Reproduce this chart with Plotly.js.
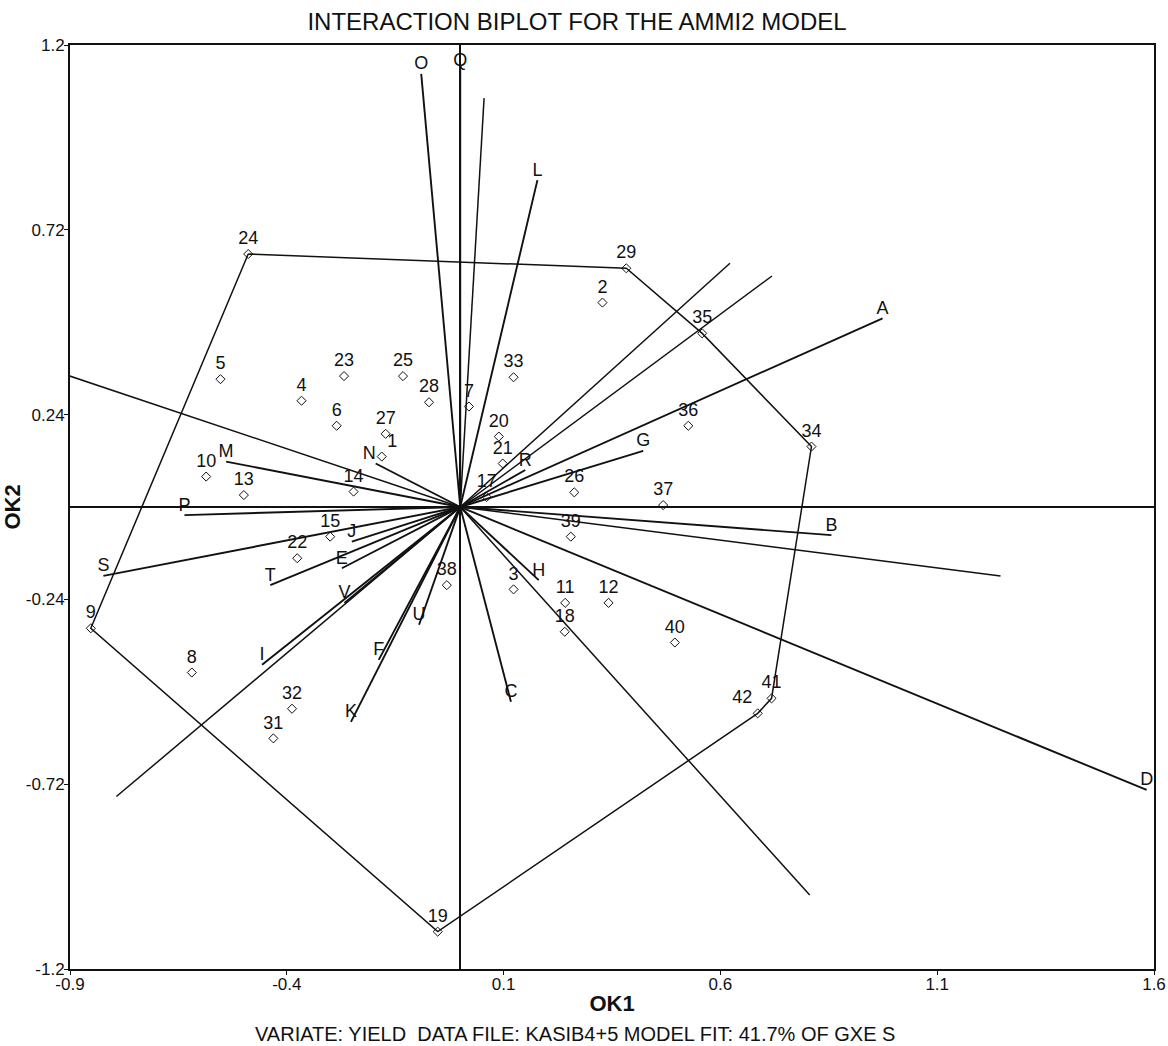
<!DOCTYPE html>
<html>
<head>
<meta charset="utf-8">
<script src="https://cdn.plot.ly/plotly-3.0.1.min.js"></script>
<style>
html,body{margin:0;padding:0;background:#fff;}
#chart{width:1168px;height:1046px;}
</style>
</head>
<body>
<div id="chart"></div>
<script>
// Genotypes (numbered points)
const genoLabels = ['1','2','3','4','5','6','7','8','9','10','11','12','13','14','15','17','18','19','20','21','22','23','24','25','26','27','28','29','31','32','33','34','35','36','37','38','39','40','41','42'];
const genoX = [-0.181,0.328,0.123,-0.366,-0.553,-0.285,0.020,-0.619,-0.852,-0.586,0.242,0.342,-0.499,-0.246,-0.300,0.061,0.241,-0.052,0.089,0.098,-0.376,-0.268,-0.489,-0.132,0.263,-0.172,-0.072,0.383,-0.431,-0.388,0.123,0.810,0.558,0.526,0.468,-0.031,0.255,0.495,0.718,0.686];
const genoY = [0.131,0.531,-0.214,0.276,0.332,0.211,0.261,-0.430,-0.315,0.079,-0.249,-0.249,0.031,0.040,-0.077,0.026,-0.324,-1.103,0.183,0.113,-0.133,0.340,0.657,0.340,0.038,0.190,0.272,0.620,-0.601,-0.524,0.337,0.157,0.451,0.211,0.005,-0.203,-0.077,-0.352,-0.497,-0.536];

// Environments (vectors from the origin)
const envLabels = ['A','B','C','D','E','F','G','H','I','J','K','L','M','N','O','P','Q','R','S','T','U','V'];
const envX = [0.974,0.856,0.117,1.583,-0.273,-0.188,0.422,0.181,-0.457,-0.250,-0.252,0.178,-0.540,-0.195,-0.090,-0.636,0.000,0.150,-0.823,-0.438,-0.095,-0.267];
const envY = [0.490,-0.073,-0.506,-0.735,-0.159,-0.397,0.146,-0.190,-0.410,-0.090,-0.558,0.849,0.118,0.113,1.125,-0.021,1.135,0.096,-0.179,-0.203,-0.306,-0.249];

// Convex hull vertices (genotype labels, in order)
const hullOrder = ['24','29','35','34','41','42','19','9','24'];

// Rays perpendicular to the hull sides (end points)
const rayX = [-0.969,0.055,0.622,0.719,1.246,0.806,-0.793];
const rayY = [0.366,1.062,0.633,0.600,-0.179,-1.008,-0.752];

// Axis ticks
const xTicks = [-0.9,-0.4,0.1,0.6,1.1,1.6];
const xTickText = ['-0.9','-0.4','0.1','0.6','1.1','1.6'];
const yTicks = [-1.2,-0.72,-0.24,0.24,0.72,1.2];
const yTickText = ['-1.2','-0.72','-0.24','0.24','0.72','1.2'];

const FONT = 'Liberation Sans, Arial, sans-serif';
const INK = '#111';

function spokes(xs, ys){
  const x=[], y=[];
  for(let i=0;i<xs.length;i++){ x.push(0, xs[i], null); y.push(0, ys[i], null); }
  return {x, y};
}
const envS = spokes(envX, envY);
const rayS = spokes(rayX, rayY);
const hullX = hullOrder.map(l => genoX[genoLabels.indexOf(l)]);
const hullY = hullOrder.map(l => genoY[genoLabels.indexOf(l)]);
const genoPos = genoLabels.map(l => l === '1' ? 'top right' : (l === '42' ? 'top left' : 'top center'));
const envPos = envLabels.map(l => l === 'N' ? 'top left' : 'top center');

const traces = [
  {type:'scatter', mode:'lines', x:rayS.x, y:rayS.y, line:{color:INK, width:1.5}, hoverinfo:'skip', showlegend:false},
  {type:'scatter', mode:'lines', x:hullX, y:hullY, line:{color:INK, width:1.5}, hoverinfo:'skip', showlegend:false},
  {type:'scatter', mode:'lines', x:envS.x, y:envS.y, line:{color:INK, width:1.9}, hoverinfo:'skip', showlegend:false},
  {type:'scatter', mode:'text', x:envX, y:envY, text:envLabels, textposition:envPos,
   textfont:{family:FONT, size:18, color:INK}, cliponaxis:false, showlegend:false},
  {type:'scatter', mode:'markers+text', x:genoX, y:genoY, text:genoLabels, textposition:genoPos,
   marker:{symbol:'diamond-open', size:7, color:INK, line:{width:1, color:INK}},
   textfont:{family:FONT, size:18, color:INK}, cliponaxis:false, showlegend:false}
];

const layout = {
  width:1168, height:1046,
  margin:{l:70, r:14, t:45, b:77},
  paper_bgcolor:'#fff', plot_bgcolor:'#fff',
  font:{family:FONT, color:INK, size:17},
  showlegend:false,
  title:{text:'INTERACTION BIPLOT FOR THE AMMI2 MODEL', font:{family:FONT, size:24, color:INK},
         x:0.494, xref:'container', xanchor:'center', y:0.979, yref:'container', yanchor:'middle'},
  xaxis:{range:[-0.9,1.6], tickmode:'array', tickvals:xTicks, ticktext:xTickText,
         showgrid:false, zeroline:true, zerolinecolor:INK, zerolinewidth:1.8,
         showline:true, mirror:true, linecolor:INK, linewidth:2,
         ticks:'outside', ticklen:4, tickcolor:INK, tickfont:{family:FONT, size:17, color:INK},
         ticklabeloverflow:'allow', ticklabelstandoff:-5,
         title:{text:'<b>OK1</b>', font:{family:FONT, size:22, color:INK}, standoff:2}},
  yaxis:{range:[-1.2,1.2], tickmode:'array', tickvals:yTicks, ticktext:yTickText,
         showgrid:false, zeroline:true, zerolinecolor:INK, zerolinewidth:1.8,
         showline:true, mirror:true, linecolor:INK, linewidth:2,
         ticks:'outside', ticklen:4, tickcolor:INK, tickfont:{family:FONT, size:17, color:INK},
         ticklabelstandoff:-4,
         title:{text:'<b>OK2</b>', font:{family:FONT, size:22, color:INK}, standoff:0}},
  annotations:[
    {text:'VARIATE: YIELD  DATA FILE: KASIB4+5 MODEL FIT: 41.7% OF GXE S', xref:'paper', yref:'paper',
     x:0.4655, y:-0.070, xanchor:'center', yanchor:'middle', showarrow:false,
     font:{family:FONT, size:20, color:INK}}
  ]
};

Plotly.newPlot('chart', traces, layout, {displayModeBar:false, staticPlot:true});
</script>
</body>
</html>
